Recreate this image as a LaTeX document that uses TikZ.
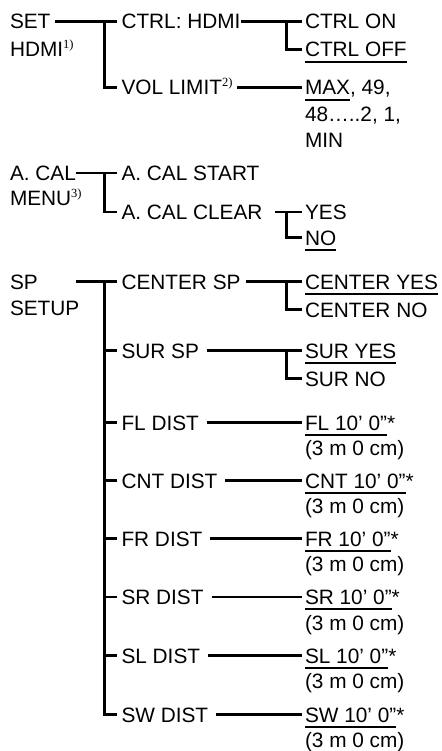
\documentclass[tikz,border=0pt]{standalone}
\usepackage{fontspec}
\setmainfont{Liberation Sans}
\newfontfamily\supserif{Liberation Serif}
\usetikzlibrary{calc}
\newcommand\fnm[1]{\raisebox{8pt}{\supserif\fontsize{12.5}{13}\selectfont #1}}
\newcommand\ulnode[1]{\draw[ulline] ([yshift=-4.8pt]#1.base west) -- ([yshift=-4.8pt]#1.base east);}
\begin{document}
\begin{tikzpicture}[x=1pt,y=-1pt,
  t/.style={anchor=base west, inner sep=0pt, outer sep=0pt, text height=15pt, text depth=0pt, font=\fontsize{20.8}{24}\selectfont},
  conn/.style={line width=2.2pt},
  ulline/.style={line width=2pt}]
\useasboundingbox (0,0) rectangle (441,751);
\coordinate (b1x) at (104.5,0);
\coordinate (b2x) at (286.5,0);

% SET HDMI
\node[t] (set) at (10,29) {SET};
\node[t] (sethdmi) at (10,57) {HDMI\fnm{1)}};
\node[t] (ctrlhdmi) at (121.5,29) {CTRL: HDMI};
\node[t] (ctrlon) at (305,29) {CTRL ON};
\node[t] (ctrloff) at (305,57) {CTRL OFF};
\node[t] (vol) at (121.5,95) {VOL LIMIT\fnm{2)}};
\node[t] (max) at (305,95) {MAX};
\node[t] (maxrest) at (max.base east) {, 49,};
\node[t] (mid) at (305,121.5) {48…..2, 1,};
\node[t] (min) at (305,148) {MIN};

% A. CAL MENU
\node[t] (acal) at (10,180.5) {A. CAL};
\node[t] (menu) at (10,205) {MENU\fnm{3)}};
\node[t] (acalstart) at (121.5,180.5) {A. CAL START};
\node[t] (acalclear) at (121.5,219.5) {A. CAL CLEAR};
\node[t] (yes) at (305,219.5) {YES};
\node[t] (no) at (305,245) {NO};

% SP SETUP
\node[t] (sp) at (10,289) {SP};
\node[t] (setup) at (10,315) {SETUP};
\node[t] (centersp) at (121.5,289) {CENTER SP};
\node[t] (centeryes) at (305,289) {CENTER YES};
\node[t] (centerno) at (305,317) {CENTER NO};
\node[t] (sursp) at (121.5,358) {SUR SP};
\node[t] (suryes) at (305,358) {SUR YES};
\node[t] (surno) at (305,386) {SUR NO};

\foreach \nm/\lab/\y in {fl/FL/430, cnt/CNT/488, fr/FR/546, sr/SR/604.5, sl/SL/663, sw/SW/722}{
  \node[t] (\nm-dist) at (121.5,\y) {\lab\ DIST};
  \node[t] (\nm-val) at (305,\y) {\lab\ 10’ 0”};
  \node[t] (\nm-ast) at (\nm-val.base east) {*};
  \node[t] (\nm-cm) at (305,\y+25.5) {(3 m 0 cm)};
  \draw[conn] ([xshift=8pt]\nm-dist.east) -- ([xshift=-3.5pt]\nm-val.west);
  \draw[conn] (b1x |- \nm-dist.west) -- ([xshift=-4.5pt]\nm-dist.west);
  \ulnode{\nm-val}
}

% connectors: SET HDMI
\draw[conn] ([xshift=5pt]set.east) -- ([xshift=-4.5pt]ctrlhdmi.west);
\draw[conn] (set.east -| b1x) |- ([xshift=-4.5pt]vol.west);
\draw[conn] (ctrlhdmi.east) -- ([xshift=-3.5pt]ctrlon.west);
\draw[conn] (ctrlhdmi.east -| b2x) |- ([xshift=-3.5pt]ctrloff.west);
\draw[conn] ([xshift=5pt]vol.east) -- ([xshift=-3.5pt]max.west);

% A. CAL
\draw[conn] (acal.east) -- ([xshift=-4.5pt]acalstart.west);
\draw[conn] (acal.east -| b1x) |- ([xshift=-4.5pt]acalclear.west);
\draw[conn] ([xshift=12pt]acalclear.east) -- ([xshift=-3.5pt]yes.west);
\draw[conn] (yes.west -| b2x) |- ([xshift=-3.5pt]no.west);

% SP SETUP
\draw[conn] ([xshift=38pt]sp.east) -- ([xshift=-4.5pt]centersp.west);
\draw[conn] (sp.east -| b1x) |- ([xshift=-4.5pt]sw-dist.west);
\draw[conn] (b1x |- sursp.west) -- ([xshift=-4.5pt]sursp.west);
\draw[conn] ([xshift=5pt]centersp.east) -- ([xshift=-3.5pt]centeryes.west);
\draw[conn] (centeryes.west -| b2x) |- ([xshift=-3.5pt]centerno.west);
\draw[conn] ([xshift=8pt]sursp.east) -- ([xshift=-3.5pt]suryes.west);
\draw[conn] (suryes.west -| b2x) |- ([xshift=-3.5pt]surno.west);

% underlines
\ulnode{ctrloff}
\ulnode{max}
\ulnode{no}
\ulnode{centeryes}
\ulnode{suryes}
\end{tikzpicture}
\end{document}
